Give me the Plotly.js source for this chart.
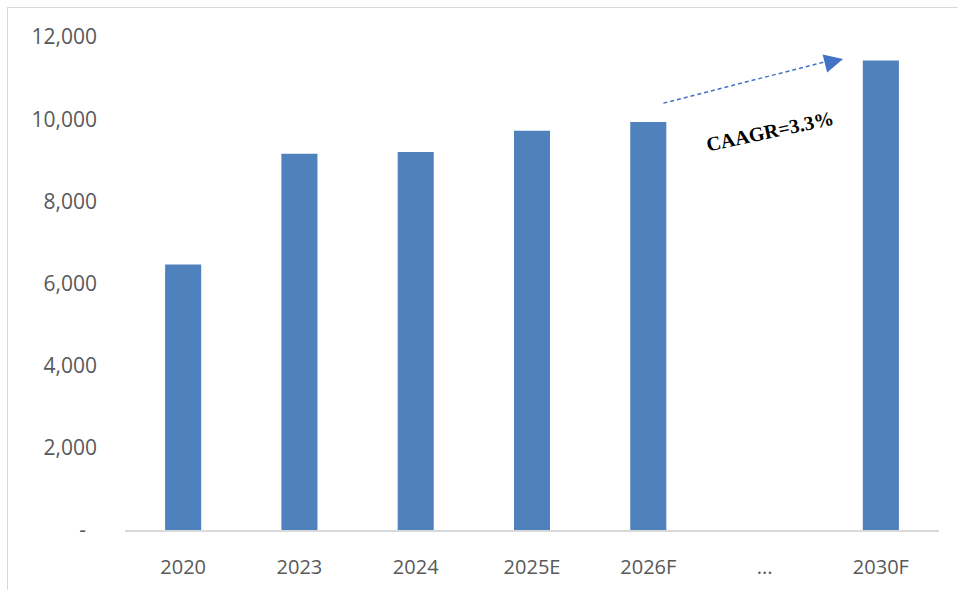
<!DOCTYPE html>
<html>
<head>
<meta charset="utf-8">
<script src="https://cdn.plot.ly/plotly-3.0.1.min.js"></script>
<style>
  html, body { margin: 0; padding: 0; background: #ffffff; overflow: hidden; }
  #frame { position: absolute; left: 7px; top: 7px; width: 1200px; height: 1200px; border: 1.5px solid #d9d9d9; }
  #chart { position: absolute; left: 0; top: 0; width: 958px; height: 590px; }
</style>
</head>
<body>
<div id="frame"></div>
<div id="chart"></div>
<script>
// Data
const categories = ["2020", "2023", "2024", "2025E", "2026F", "...", "2030F"];
const values = [6460, 9160, 9200, 9720, 9930, null, 11430];
const yTickVals = [0, 2000, 4000, 6000, 8000, 10000, 12000];
const yTickText = ["-\u00a0\u00a0", "2,000", "4,000", "6,000", "8,000", "10,000", "12,000"];
const growthLabel = "CAAGR=3.3%";

const trace = {
  type: "bar",
  x: categories,
  y: values,
  marker: { color: "#4F81BD" },
  hoverinfo: "skip"
};

const layout = {
  width: 958,
  height: 590,
  margin: { l: 125, r: 19, t: 37, b: 60 },
  paper_bgcolor: "rgba(0,0,0,0)",
  plot_bgcolor: "rgba(0,0,0,0)",
  bargap: 0.69,
  showlegend: false,
  font: { family: "Open Sans, sans-serif", size: 21, color: "#595959" },
  xaxis: {
    type: "category",
    showgrid: false,
    showline: true,
    linecolor: "#d9d9d9",
    linewidth: 2,
    ticks: "",
    ticklabelstandoff: 18,
    tickfont: { family: "Open Sans, sans-serif", size: 20, color: "#595959" },
    zeroline: false,
    fixedrange: true
  },
  yaxis: {
    range: [0, 12000],
    tickvals: yTickVals,
    ticktext: yTickText,
    showgrid: false,
    showline: false,
    zeroline: false,
    ticks: "",
    ticklabelstandoff: 27,
    tickfont: { family: "Open Sans, sans-serif", size: 21, color: "#595959" },
    fixedrange: true
  },
  shapes: [
    {
      type: "line",
      xref: "x", yref: "y",
      x0: 4.13, y0: 10390,
      x1: 5.58, y1: 11440,
      line: { color: "#4472C4", width: 1.5, dash: "4px,3px" }
    }
  ],
  annotations: [
    {
      xref: "x", yref: "y",
      x: 5.675, y: 11465,
      ax: -16, ay: 4,
      showarrow: true,
      arrowhead: 2,
      arrowsize: 2.5,
      arrowwidth: 1.5,
      arrowcolor: "#4472C4",
      standoff: 0,
      text: ""
    },
    {
      xref: "x", yref: "y",
      x: 5.05, y: 9720,
      text: "<b>" + growthLabel + "</b>",
      showarrow: false,
      textangle: -12,
      font: { family: "Liberation Serif, Times New Roman, serif", size: 20, color: "#000000" }
    }
  ]
};

Plotly.newPlot("chart", [trace], layout, { displayModeBar: false, staticPlot: true });
</script>
</body>
</html>
